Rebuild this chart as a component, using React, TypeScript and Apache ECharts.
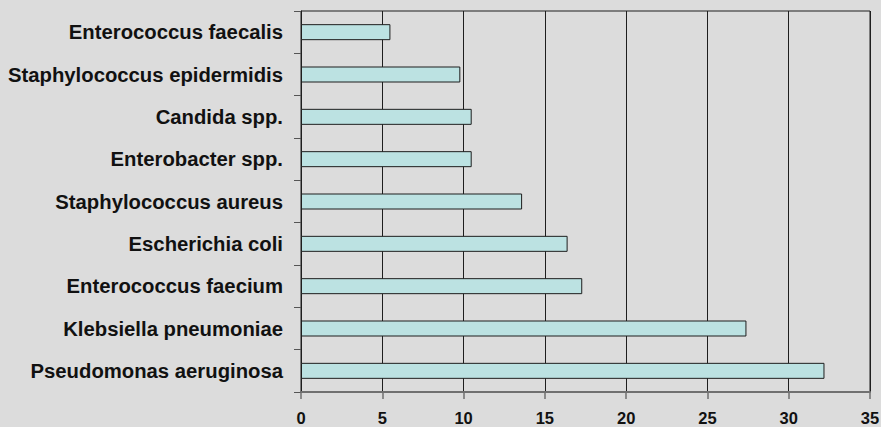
import React, { useEffect, useRef } from "react";
import * as echarts from "echarts";

// Organisms, listed top to bottom
const organisms = [
  "Enterococcus faecalis",
  "Staphylococcus epidermidis",
  "Candida spp.",
  "Enterobacter spp.",
  "Staphylococcus aureus",
  "Escherichia coli",
  "Enterococcus faecium",
  "Klebsiella pneumoniae",
  "Pseudomonas aeruginosa",
];

// Value for each organism, same order
const values = [5.5, 9.8, 10.5, 10.5, 13.6, 16.4, 17.3, 27.4, 32.2];

// Value axis range
const axisMin = 0;
const axisMax = 35;
const axisStep = 5;

const FONT = "'Liberation Sans', Arial, Helvetica, sans-serif";

export default function App() {
  const ref = useRef<HTMLDivElement>(null);

  useEffect(() => {
    if (!ref.current) return;
    const chart = echarts.init(ref.current, undefined, { renderer: "svg" });
    chart.setOption({
      animation: false,
      backgroundColor: "#dcdcdc",
      grid: {
        left: 301,
        right: 11,
        top: 11,
        bottom: 35,
        outerBoundsMode: "none",
        containLabel: false,
        show: true,
        borderColor: "#1e1e1e",
        borderWidth: 1,
        backgroundColor: "transparent",
      },
      xAxis: {
        type: "value",
        min: axisMin,
        max: axisMax,
        interval: axisStep,
        axisLine: { show: true, lineStyle: { color: "#707070", width: 2 } },
        axisTick: { show: true, length: 7, lineStyle: { color: "#707070", width: 1.5 } },
        splitLine: { show: true, lineStyle: { color: "#1e1e1e", width: 1 } },
        axisLabel: {
          color: "#111111",
          fontFamily: FONT,
          fontWeight: "bold",
          fontSize: 16.5,
          margin: 17.5,
        },
      },
      yAxis: {
        type: "category",
        data: organisms,
        inverse: true,
        axisLine: { show: true, lineStyle: { color: "#1e1e1e", width: 1 } },
        axisTick: { show: true, length: 7, lineStyle: { color: "#555555", width: 1 } },
        axisLabel: {
          color: "#111111",
          fontFamily: FONT,
          fontWeight: "bold",
          fontSize: 20.3,
          margin: 18,
        },
      },
      series: [
        {
          type: "bar",
          data: values,
          barWidth: 16,
          itemStyle: {
            color: "#bce2e2",
            borderColor: "#1e1e1e",
            borderWidth: 1,
          },
        },
      ],
    });
    return () => chart.dispose();
  }, []);

  return (
    <div
      ref={ref}
      style={{ position: "fixed", left: 0, top: 0, width: 881, height: 427 }}
    />
  );
}
